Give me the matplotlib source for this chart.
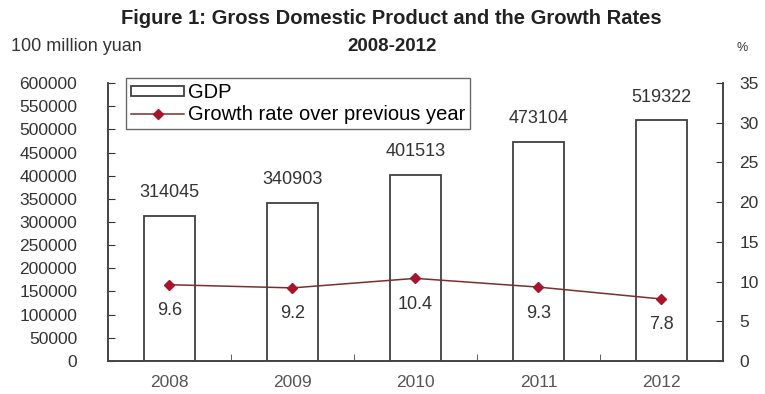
import matplotlib.pyplot as plt
import numpy as np

plt.rcParams['font.family'] = ['Liberation Sans', 'DejaVu Sans']

# GDP and growth rate, 2008-2012
years = ['2008', '2009', '2010', '2011', '2012']
gdp = [314045, 340903, 401513, 473104, 519322]
growth = [9.6, 9.2, 10.4, 9.3, 7.8]

fig = plt.figure(figsize=(7.65, 3.94), dpi=100)
ax = fig.add_axes([0.141, 0.084, 0.804, 0.705])
ax2 = ax.twinx()

x = np.arange(len(years))
bars = ax.bar(x, gdp, width=0.42, color='white', edgecolor='#404040',
              linewidth=1.3, label='GDP', zorder=2)
line, = ax2.plot(x, growth, color='#7a2f2f', linewidth=1.1, marker='D',
                 markersize=5, markerfacecolor='#a8142c',
                 markeredgecolor='#a8142c',
                 label='Growth rate over previous year', zorder=3)

ax.set_xlim(-0.5, len(years) - 0.5)
ax.set_ylim(0, 600000)
ax.set_yticks(np.arange(0, 600001, 50000))
ax2.set_ylim(0, 35)
ax2.set_yticks(np.arange(0, 36, 5))

# value labels
for xi, v in zip(x, gdp):
    ax.text(xi, v + 32000, str(v), ha='center', va='bottom',
            fontsize=13, color='#333333')
for xi, g in zip(x, growth):
    ax2.text(xi, g - 2.2, f'{g:.1f}', ha='center', va='top',
             fontsize=13, color='#333333')

# axes styling
ax.set_xticks(x)
ax.set_xticklabels(years)
ax.set_xticks(np.arange(0.5, len(years) - 0.5), minor=True)
ax.tick_params(axis='x', which='major', length=0, pad=10, labelsize=12.5,
               colors='#555555')
ax.tick_params(axis='x', which='minor', direction='in', length=5,
               color='#444444')
ax.tick_params(axis='y', direction='in', length=5, labelsize=12.5,
               colors='#333333', pad=22)
ax2.tick_params(axis='y', direction='in', length=5, labelsize=12.5,
                colors='#333333', pad=12)
for a in (ax, ax2):
    a.spines['top'].set_visible(False)
    for s in ('left', 'right', 'bottom'):
        a.spines[s].set_color('#444444')
        a.spines[s].set_linewidth(1.2)

leg = ax.legend([bars, line], ['GDP', 'Growth rate over previous year'],
                loc='upper left', bbox_to_anchor=(0.03, 1.018), fontsize=14.5,
                frameon=True, fancybox=False, borderpad=0.25,
                handlelength=2.6, handleheight=0.4, handletextpad=0.2,
                labelspacing=0.15, borderaxespad=0)
leg.get_frame().set_edgecolor('#444444')
leg.get_frame().set_linewidth(1.0)

fig.text(0.512, 0.954, 'Figure 1: Gross Domestic Product and the Growth Rates',
         ha='center', va='center', fontsize=14.5, fontweight='bold',
         color='#222222')
fig.text(0.512, 0.883, '2008-2012', ha='center', va='center',
         fontsize=13.5, fontweight='bold', color='#222222')
fig.text(0.015, 0.883, '100 million yuan', va='center', fontsize=13,
         color='#333333')
fig.text(0.963, 0.878, '%', va='center', fontsize=9, color='#333333')

fig.savefig('out.png', dpi=100)
